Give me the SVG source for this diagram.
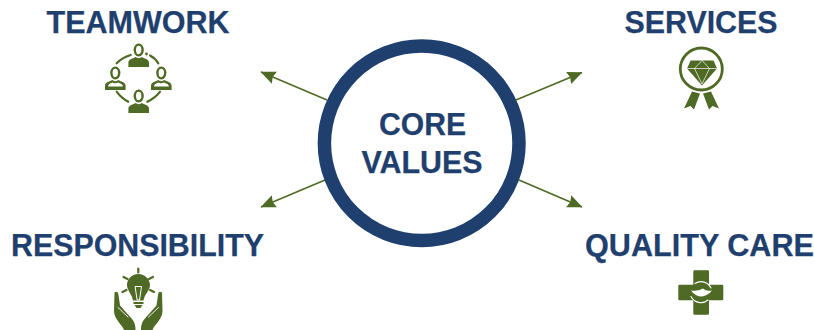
<svg xmlns="http://www.w3.org/2000/svg" width="814" height="330" viewBox="0 0 814 330">
<style>
text{font-family:"Liberation Sans",Arial,sans-serif;font-weight:700;font-size:31.5px;fill:#1f3f6e;stroke:#1f3f6e;stroke-width:.25;text-anchor:middle}
.c{stroke:#4f6a24;stroke-width:1.6;fill:none;marker-end:url(#a)}
.g{fill:#4f6a24}
.l{fill:none;stroke:#4f6a24;stroke-width:2.2;stroke-linecap:round}
.w{fill:none;stroke:#fff;stroke-linecap:round;stroke-linejoin:round}
</style>
<defs>
<marker id="a" markerUnits="userSpaceOnUse" markerWidth="16" markerHeight="14" refX="14.500" refY="6.500" orient="auto"><path d="M0 0L15 6.500L0 13L1.800 6.500Z" fill="#4f6a24"/></marker>
<g id="p"><ellipse cx="0" cy="-8" rx="3.900" ry="5.400" fill="#fff" stroke="#4f6a24" stroke-width="2.400"/><path d="M-10.300 9V4.500C-10.300 1-5 .5-3.200-1 -1.500 .5 1.500 .5 3.200-1 5 .5 10.300 1 10.300 4.500V9Z" fill="#4f6a24"/></g>
</defs>
<rect width="814" height="330" fill="#fff"/>
<g id="connectors">
<path class="c" d="M327 100L261 72"/>
<path class="c" d="M516 100L582 72.500"/>
<path class="c" d="M325 180L261 207"/>
<path class="c" d="M519 180L582 207"/>
</g>
<g id="core"><circle cx="421.700" cy="143.300" r="97.300" fill="#fff" stroke="#1f3f6e" stroke-width="13.500"/>
<text x="422.500" y="135" textLength="87" lengthAdjust="spacingAndGlyphs">CORE</text><text x="422" y="173" textLength="121" lengthAdjust="spacingAndGlyphs">VALUES</text></g>
<g id="teamwork"><text x="138" y="33" textLength="183" lengthAdjust="spacingAndGlyphs">TEAMWORK</text>
<use href="#p" x="138.700" y="58"/><use href="#p" x="138.700" y="104"/>
<use href="#p" x="115.300" y="81"/><use href="#p" x="161.300" y="81"/>
<path d="M108 86.500H123C122.500 83.500 119 83.200 118 82.500 116.500 83.500 113.500 83.500 112.500 82.500 111 83.200 108.500 83.500 108 86.500ZM154 86.500H169C168.500 83.500 165 83.200 164 82.500 162.500 83.500 159.500 83.500 158.500 82.500 157 83.200 154.500 83.500 154 86.500Z" fill="#fff"/>
<path class="l" d="M116.700 63.300Q122 57.500 130.700 55M150 55.500Q155 58 158.300 63.300M116.700 91.700Q121 98 128.300 101.700M160 91.700Q155.500 98 147.300 101.700"/>
<circle class="g" cx="146.500" cy="54" r="1.400"/></g>
<g id="services"><text x="701" y="33" textLength="153" lengthAdjust="spacingAndGlyphs">SERVICES</text>
<circle cx="701.300" cy="69" r="21" fill="none" stroke="#4f6a24" stroke-width="2.800"/>
<path class="g" d="M690.700 60.500H713.500L717 68.500 702 85.500 687 68.500Z"/>
<path class="w" stroke-width=".7" d="M687.500 68.500H716.500M694.500 68.500L702 84 709.500 68.500L702 60.500 694.500 68.500"/>
<path class="g" d="M692 91.500L684 108.500 690.500 106 694 109.500 700 93.500ZM711 91.500L719 108.500 712.500 106 709 109.500 703 93.500Z"/></g>
<g id="responsibility"><text x="137.500" y="256" textLength="253" lengthAdjust="spacingAndGlyphs">RESPONSIBILITY</text>
<path class="g" d="M138.300 274C131.500 274 127 279.500 127 285C127 290.500 132 294 133 300.500H143.500C144.500 294 150 290.500 150 285C150 279.500 145 274 138.300 274Z"/>
<path class="w" stroke-width="1" d="M135.500 286.500H141.500L139.500 300H137.500Z"/>
<path class="g" d="M133.500 302H143.500V304H133.500ZM134.500 305H142.500L140.500 308H136.500Z"/>
<path d="M138.300 268.500V272.500M123.500 277L127.500 279M153 277L149 279M122.500 292L126.500 290M154 292L150 290" stroke="#4f6a24" stroke-width="2.200" stroke-linecap="round" fill="none"/>
<path class="g" d="M114.500 292.500C117 291 118 292 118.500 295L120 305.500L132 319C134.500 322 135.500 325 135.500 330H124C122.500 325 114 319 114 311ZM162 292.500C159.500 291 158.500 292 158 295L156.500 305.500L144.500 319C142 322 141 325 141 330H152.500C154 325 162.500 319 162.500 311Z"/>
<path class="w" stroke-width=".9" d="M118 307.500L128 317M158.500 307.500L148.500 317"/></g>
<g id="quality"><text x="699.500" y="256" style="font-size:30.6px">QUALITY CARE</text>
<path class="g" d="M694.500 270.300H707.800Q709 270.300 709 271.500V284.700H722.100Q723.300 284.700 723.300 285.900V299.100Q723.300 300.300 722.100 300.300H709V313.500Q709 314.700 707.800 314.700H694.500Q693.300 314.700 693.300 313.500V300.300H679.500Q678.300 300.300 678.300 299.100V285.900Q678.300 284.700 679.500 284.700H693.300V271.500Q693.300 270.300 694.500 270.300Z"/>
<path class="w" stroke-width="1.100" d="M695 283.500A11 11 0 0 1 711 288M708 300A11 11 0 0 1 691 296.500"/>
<path d="M691 290.500Q695 296.500 702 296.500 708 295.500 712 290.500 706 291.500 703 288.500 698 291.500 691 290.500Z" fill="#fff"/></g>
</svg>
